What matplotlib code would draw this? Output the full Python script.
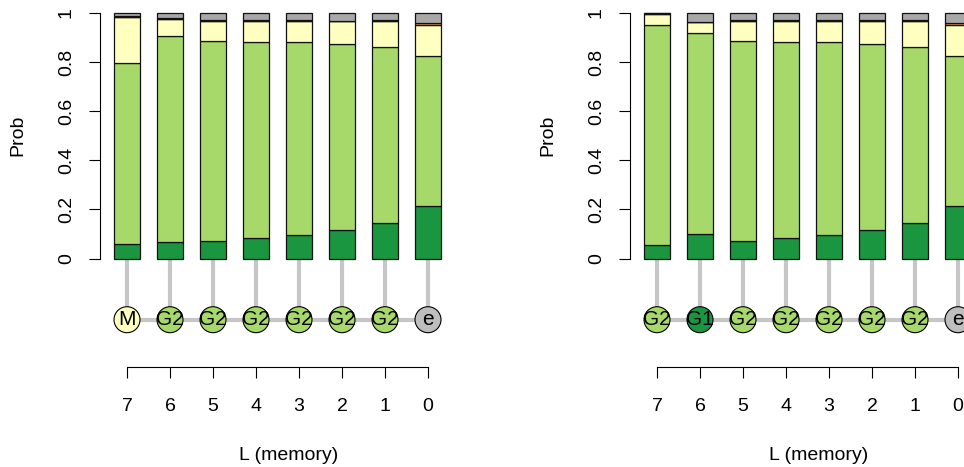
import numpy as np
import matplotlib
matplotlib.use('Agg')
import matplotlib.pyplot as plt

plt.rcParams['font.family'] = ['Liberation Sans', 'DejaVu Sans']

# x categories (memory length L), left to right
memory = [7, 6, 5, 4, 3, 2, 1, 0]

# left panel: stacked probabilities, bottom to top
left_G1 = [0.060, 0.067, 0.072, 0.082, 0.094, 0.115, 0.145, 0.213]
left_G2 = [0.735, 0.839, 0.815, 0.798, 0.788, 0.760, 0.717, 0.610]
left_M = [0.187, 0.070, 0.082, 0.089, 0.087, 0.091, 0.105, 0.127]
left_S = [0.003, 0.000, 0.000, 0.000, 0.000, 0.000, 0.002, 0.008]
left_R = [0.003, 0.002, 0.003, 0.003, 0.003, 0.003, 0.003, 0.003]
left_e = [0.012, 0.022, 0.028, 0.028, 0.028, 0.031, 0.028, 0.039]
left_nodes = ['M', 'G2', 'G2', 'G2', 'G2', 'G2', 'G2', 'e']

# right panel
right_G1 = [0.055, 0.098, 0.073, 0.082, 0.096, 0.116, 0.145, 0.213]
right_G2 = [0.896, 0.822, 0.813, 0.800, 0.785, 0.758, 0.718, 0.610]
right_M = [0.043, 0.043, 0.083, 0.087, 0.088, 0.093, 0.103, 0.127]
right_S = [0.000, 0.000, 0.000, 0.000, 0.000, 0.000, 0.002, 0.008]
right_R = [0.006, 0.002, 0.003, 0.003, 0.003, 0.003, 0.003, 0.003]
right_e = [0.000, 0.035, 0.028, 0.028, 0.028, 0.030, 0.029, 0.039]
right_nodes = ['G2', 'G1', 'G2', 'G2', 'G2', 'G2', 'G2', 'e']

seg_colors = {'G1': '#1A9641', 'G2': '#A6D96A', 'M': '#FFFFBF',
              'S': '#FDAE61', 'R': '#D7191C', 'e': '#A8A8A8'}
node_colors = dict(seg_colors, e='#BEBEBE')

# pixel -> data helpers (bar spacing 43px, unit height 245.5px)
PX_X, PX_Y = 43.0, 245.5
node_y = (258.5 - 319.7) / PX_Y
axis_y = (258.5 - 367.0) / PX_Y


def draw_panel(ax, stacks, nodes):
    x = np.arange(len(memory))
    bottom = np.zeros(len(x))
    for name, vals in stacks:
        vals = np.array(vals)
        ax.bar(x, vals, width=0.6, bottom=bottom, color=seg_colors[name],
               edgecolor='#111111', linewidth=0.9, zorder=3)
        bottom += vals

    # connectors and nodes
    ax.vlines(x, node_y, 0, color='#C6C6C6', lw=3, zorder=1)
    ax.hlines(node_y, x[0], x[-1], color='#C6C6C6', lw=3, zorder=1)
    ax.scatter(x, [node_y] * len(x), s=350, c=[node_colors[n] for n in nodes],
               edgecolors='black', linewidths=0.8, zorder=4)
    for xi, lab in zip(x, nodes):
        ax.text(xi, node_y, lab, ha='center', va='center', fontsize=15, zorder=5)

    ax.set_xlim(-27 / PX_X, 333 / PX_X)
    ax.set_ylim((258.5 - 467) / PX_Y, 258.5 / PX_Y)
    for s in ['top', 'right']:
        ax.spines[s].set_visible(False)
    ax.spines['left'].set_bounds(0, 1)
    ax.spines['bottom'].set_position(('data', axis_y))
    ax.spines['bottom'].set_bounds(0, 7)
    for s in ['left', 'bottom']:
        ax.spines[s].set_linewidth(0.8)

    ax.set_xticks(x)
    ax.set_xticklabels([str(m) for m in memory])
    yt = [0, 0.2, 0.4, 0.6, 0.8, 1]
    ax.set_yticks(yt)
    ax.set_yticklabels(['0', '0.2', '0.4', '0.6', '0.8', '1'], rotation=90, va='center')
    ax.tick_params(length=8, width=0.8, labelsize=14)
    ax.tick_params(axis='y', pad=10)
    ax.tick_params(axis='x', pad=14)
    ax.patch.set_visible(False)

    ax.text(-82 / 360, (467 - 135.5) / 467, 'Prob', transform=ax.transAxes,
            rotation=90, ha='center', va='center', fontsize=14)
    ax.text(162 / PX_X, (258.5 - 455) / PX_Y, 'L (memory)', ha='center',
            va='center', fontsize=14)


fig = plt.figure(figsize=(9.64, 4.67), dpi=100)
ax1 = fig.add_axes([100 / 964, 0, 360 / 964, 1])
ax2 = fig.add_axes([630 / 964, 0, 360 / 964, 1])

draw_panel(ax1, [('G1', left_G1), ('G2', left_G2), ('M', left_M),
                 ('S', left_S), ('R', left_R), ('e', left_e)], left_nodes)
draw_panel(ax2, [('G1', right_G1), ('G2', right_G2), ('M', right_M),
                 ('S', right_S), ('R', right_R), ('e', right_e)], right_nodes)

fig.savefig('out.png', dpi=100)
